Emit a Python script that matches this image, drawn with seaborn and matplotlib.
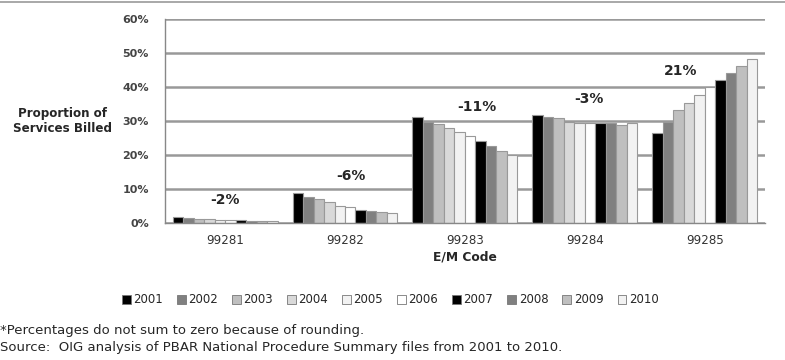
import matplotlib
matplotlib.use("Agg")
import matplotlib.pyplot as plt
import seaborn as sb
import pandas as pd
from matplotlib.patches import Patch
from matplotlib.lines import Line2D

codes = ["99281", "99282", "99283", "99284", "99285"]
years = ["2001", "2002", "2003", "2004", "2005", "2006", "2007", "2008", "2009", "2010"]

# proportion of services billed (%) per code, 2001..2010
p99281 = [1.8, 1.4, 1.2, 1.2, 1.0, 1.0, 0.8, 0.7, 0.6, 0.6]
p99282 = [8.9, 7.7, 7.0, 6.1, 5.1, 4.6, 3.8, 3.5, 3.2, 2.8]
p99283 = [31.3, 29.8, 29.1, 28.0, 26.7, 25.7, 24.2, 22.5, 21.3, 20.0]
p99284 = [31.7, 31.3, 30.8, 29.8, 29.4, 29.4, 29.4, 29.3, 28.7, 29.3]
p99285 = [26.6, 29.8, 33.1, 35.2, 37.6, 39.9, 42.1, 44.2, 46.2, 48.1]

changes = ["-2%", "-6%", "-11%", "-3%", "21%"]
change_y = [6.8, 13.9, 34.0, 36.4, 44.8]
change_x = [0.0, 0.05, 0.1, 0.03, -0.2]

colors = ["#000000", "#808080", "#bfbfbf", "#d9d9d9", "#f2f2f2",
          "#ffffff", "#000000", "#808080", "#bfbfbf", "#f2f2f2"]

rows = []
for code, vals in zip(codes, [p99281, p99282, p99283, p99284, p99285]):
    for yr, v in zip(years, vals):
        rows.append({"code": code, "year": yr, "value": v})
df = pd.DataFrame(rows)

sb.set_style("white")
plt.rcParams["font.family"] = ["DejaVu Sans"]

fig = plt.figure(figsize=(7.85, 3.6), dpi=100)
ax = fig.add_axes([0.2102, 0.3806, 0.7643, 0.5667])

sb.barplot(data=df, x="code", y="value", hue="year", palette=colors,
           width=0.875, edgecolor="#999999", linewidth=0.8, ax=ax,
           legend=False, saturation=1)

ax.set_ylim(0, 60)
ax.set_xlim(-0.5, 4.5)
ax.set_yticks(range(0, 61, 10))
ax.set_yticklabels([f"{t}%" for t in range(0, 61, 10)],
                   fontsize=8, fontweight="bold", color="#444444")
ax.set_xticks(range(5))
ax.set_xticklabels(codes, fontsize=8.6, color="#333333")
ax.set_xticks([i - 0.5 for i in range(6)], minor=True)
ax.tick_params(axis="x", which="major", length=0, pad=8)
ax.tick_params(axis="x", which="minor", length=5, color="#888888", direction="out")
ax.tick_params(axis="y", length=7, color="#888888", direction="inout", pad=8)

ax.yaxis.grid(True, color="#999999", linewidth=1.8)
ax.set_axisbelow(True)
for s in ["top", "right"]:
    ax.spines[s].set_visible(False)
for s in ["left", "bottom"]:
    ax.spines[s].set_color("#888888")
    ax.spines[s].set_linewidth(1.0)

ax.set_xlabel("")
ax.set_ylabel("")
fig.text(0.5924, 1 - 257 / 360, "E/M Code", fontsize=8.8, fontweight="bold",
         ha="center", va="center")
fig.text(0.0796, 0.664, "Proportion of\nServices Billed", fontsize=8.6,
         fontweight="bold", ha="center", va="center", linespacing=1.25)

for i, (lab, yv) in enumerate(zip(changes, change_y)):
    ax.text(i + change_x[i], yv, lab, fontsize=10, fontweight="bold",
            ha="center", va="center")

handles = [Patch(facecolor=c, edgecolor="#777777", linewidth=0.6) for c in colors]
fig.legend(handles, years, loc="center", bbox_to_anchor=(0.497, 0.167), ncol=10,
           frameon=False, fontsize=8.5, handlelength=0.75, handleheight=0.75,
           handletextpad=0.2, columnspacing=1.2)

fig.text(0.0, 0.083, "*Percentages do not sum to zero because of rounding.",
         fontsize=9.5, ha="left", va="center")
fig.text(0.0, 0.034, "Source:  OIG analysis of PBAR National Procedure Summary files from 2001 to 2010.",
         fontsize=9.5, ha="left", va="center")

fig.add_artist(Line2D([0, 1], [0.995, 0.995], color="#999999", linewidth=1.2,
                      transform=fig.transFigure))

fig.savefig("out.png", dpi=100)
